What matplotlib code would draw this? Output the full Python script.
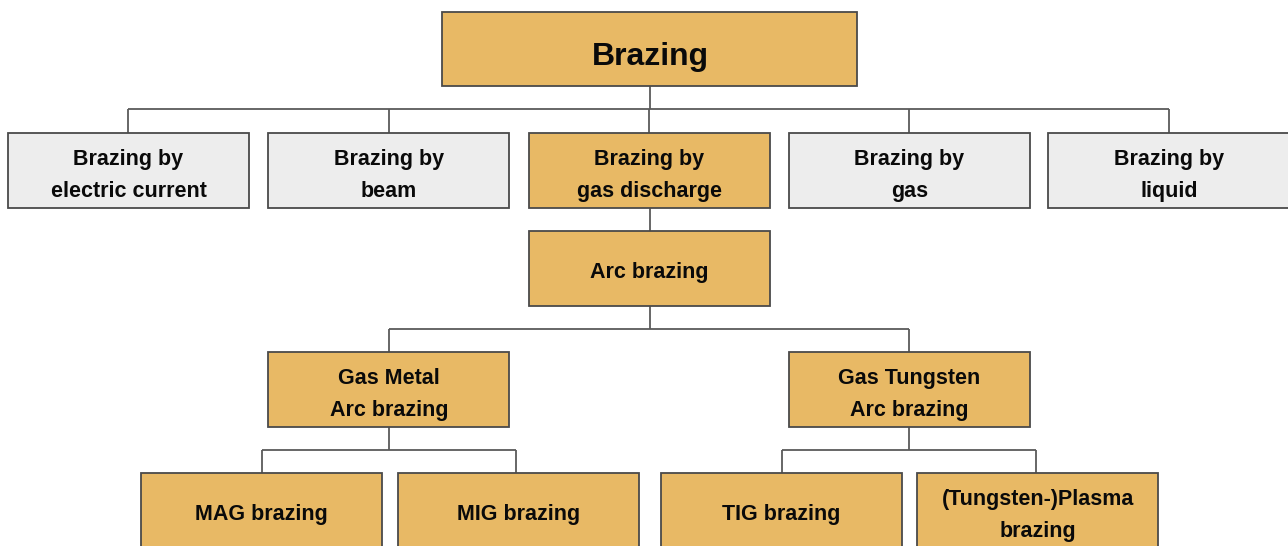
import matplotlib
matplotlib.use("Agg")
import matplotlib.pyplot as plt
from matplotlib.patches import Rectangle

# ---- data ----
root_label = "Brazing"
level1_labels = ["Brazing by\nelectric current", "Brazing by\nbeam", "Brazing by\ngas discharge",
                 "Brazing by\ngas", "Brazing by\nliquid"]
level1_highlight = [False, False, True, False, False]
level2_labels = ["Arc brazing"]
level3_labels = ["Gas Metal\nArc brazing", "Gas Tungsten\nArc brazing"]
level4_labels = [["MAG brazing", "MIG brazing"], ["TIG brazing", "(Tungsten-)Plasma\nbrazing"]]

GOLD = "#E8B965"
GREY = "#EDEDED"
EDGE = "#4a4a4a"
LINE = "#5a5a5a"

plt.rcParams['font.family'] = ['Liberation Sans Narrow', 'Liberation Sans', 'DejaVu Sans']

fig = plt.figure(figsize=(12.88, 5.46), dpi=100)
ax = fig.add_axes([0, 0, 1, 1])
ax.set_xlim(0, 1288)
ax.set_ylim(546, 0)
ax.axis("off")

BW, BH = 241, 75

def box(cx, top, label, color, w=BW, h=BH, fs=15.5, dy=None):
    ax.add_patch(Rectangle((cx - w / 2, top), w, h, facecolor=color, edgecolor=EDGE, lw=1.3, zorder=2))
    if dy is None:
        dy = 5 if "\n" in label else 4
    ax.text(cx, top + h / 2 + dy, label, ha="center", va="center", fontsize=fs,
            fontweight="bold", linespacing=1.72, zorder=3, color="#0a0a0a")

def line(xs, ys):
    ax.plot(xs, ys, color=LINE, lw=1.3, zorder=1, solid_capstyle="butt")

# root
root_cx = 650
box(root_cx, 12, root_label, GOLD, w=415, h=74, fs=23, dy=8)

# level 1
l1_x = [128.5, 389, 649.5, 909.5, 1169]
l1_top = 133
bus1 = 109
line([root_cx, root_cx], [86, bus1])
line([l1_x[0], l1_x[-1]], [bus1, bus1])
for x, lab, hl in zip(l1_x, level1_labels, level1_highlight):
    line([x, x], [bus1, l1_top])
    box(x, l1_top, lab, GOLD if hl else GREY)

# level 2
l2_top = 231
line([650, 650], [l1_top + BH, l2_top])
box(649.5, l2_top, level2_labels[0], GOLD)

# level 3
l3_x = [389, 909.5]
l3_top = 352
bus3 = 329
line([650, 650], [l2_top + BH, bus3])
line([l3_x[0], l3_x[1]], [bus3, bus3])
for x, lab in zip(l3_x, level3_labels):
    line([x, x], [bus3, l3_top])
    box(x, l3_top, lab, GOLD)

# level 4
l4_x = [[261.5, 518.5], [781.5, 1038]]
l4_top = 473
bus4 = 450
for px, xs, labs in zip(l3_x, l4_x, level4_labels):
    line([px, px], [l3_top + BH, bus4])
    line([xs[0] + 1, xs[1] - 2], [bus4, bus4])
    for x, lab in zip(xs, labs):
        off = 1 if x == xs[0] else -2
        line([x + off, x + off], [bus4, l4_top])
        box(x, l4_top, lab, GOLD)

fig.savefig("out.png", dpi=100)
